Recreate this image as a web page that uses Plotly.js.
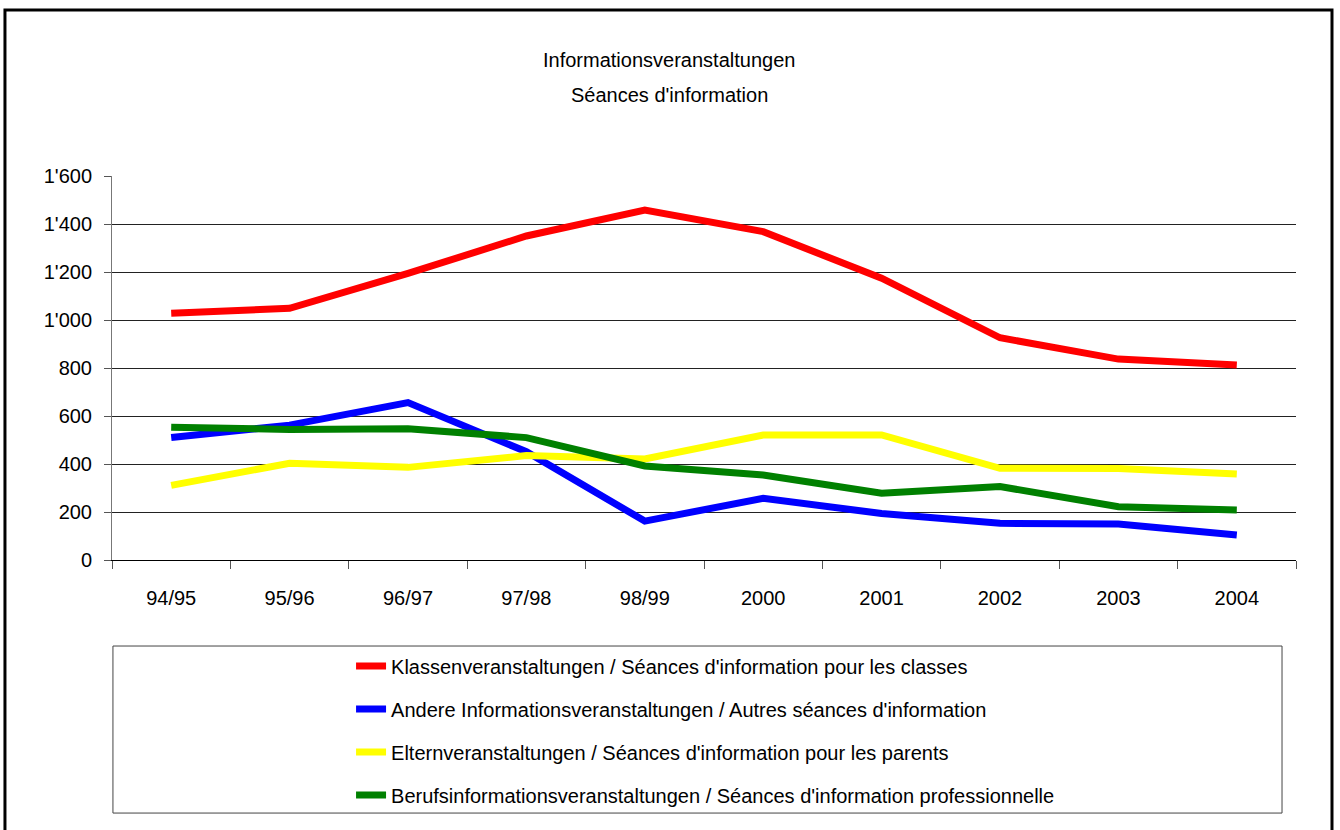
<!DOCTYPE html>
<html><head><meta charset="utf-8">
<script src="https://cdn.plot.ly/plotly-3.0.1.min.js"></script>
<style>html,body{margin:0;padding:0;background:#fff}#chart{width:1340px;height:830px}</style>
</head><body><div id="chart"></div>
<script>
const categories = ["94/95","95/96","96/97","97/98","98/99","2000","2001","2002","2003","2004"];
const klassen = [1028,1049,1194,1350,1458,1368,1174,926,837,812];
const andere = [510,562,656,451,162,257,194,153,150,104];
const eltern = [311,403,386,435,421,521,521,382,381,358];
const beruf = [553,544,547,510,392,354,278,306,222,208];
const seriesNames = [
  "Klassenveranstaltungen / Séances d'information pour les classes",
  "Andere Informationsveranstaltungen / Autres séances d'information",
  "Elternveranstaltungen / Séances d'information pour les parents",
  "Berufsinformationsveranstaltungen / Séances d'information professionnelle"
];
const colors = ["#ff0000","#0000ff","#ffff00","#008000"];
const yTicks = [0,200,400,600,800,1000,1200,1400,1600];
const yTickText = ["0","200","400","600","800","1'000","1'200","1'400","1'600"];
const titleLines = ["Informationsveranstaltungen","Séances d'information"];

const FONT = "Liberation Sans, Arial, Helvetica, sans-serif";
const data = [klassen, andere, eltern, beruf].map((vals, i) => ({
  type: "scatter", mode: "lines", x: categories, y: vals, name: seriesNames[i],
  legendgroup: "g" + i,
  line: {color: colors[i], width: 7, shape: "linear"}, cliponaxis: false
}));

const titleY = [1.302, 1.211];
const layout = {
  width: 1340, height: 830,
  margin: {l: 112, r: 44, t: 176, b: 270, pad: 0},
  paper_bgcolor: "#fff", plot_bgcolor: "#fff",
  font: {family: FONT, size: 20, color: "#000"},
  showlegend: true,
  legend: {x: 0.2019, y: -0.225, xanchor: "left", yanchor: "top", orientation: "v",
    font: {family: FONT, size: 20, color: "#000"}, bgcolor: "rgba(0,0,0,0)",
    borderwidth: 0, tracegroupgap: 14, traceorder: "grouped"},
  xaxis: {type: "category", tickson: "boundaries", ticks: "outside", ticklen: 8,
    tickcolor: "#555", showline: true, linecolor: "#000", linewidth: 1,
    showgrid: false, zeroline: false, ticklabelstandoff: 20,
    tickfont: {family: FONT, size: 20, color: "#000"}, range: [-0.5, 9.5], fixedrange: true},
  yaxis: {range: [0, 1600], tickvals: yTicks, ticktext: yTickText, ticks: "outside",
    ticklen: 7, tickcolor: "#555", showline: true, linecolor: "#777", linewidth: 1,
    showgrid: true, gridcolor: "#222", gridwidth: 1, zeroline: false,
    ticklabelstandoff: 8,
    tickfont: {family: FONT, size: 20, color: "#000"}, fixedrange: true},
  annotations: titleLines.map((t, i) => ({xref: "paper", yref: "paper", x: 0.4705, y: titleY[i],
    xanchor: "center", yanchor: "middle", text: t, showarrow: false,
    font: {family: FONT, size: 20, color: "#000"}})),
  shapes: [
    {type: "rect", xref: "paper", yref: "paper", x0: -0.0904, x1: 1.0304, y0: -0.73, y1: 1.4323,
      line: {color: "#000", width: 3}, fillcolor: "rgba(0,0,0,0)", layer: "below"},
    {type: "rect", xref: "paper", yref: "paper", x0: 0.0008, x1: 0.9882, y0: -0.659, y1: -0.224,
      line: {color: "#444", width: 1}, fillcolor: "rgba(0,0,0,0)", layer: "below"}
  ]
};
Plotly.newPlot("chart", data, layout, {displayModeBar: false, staticPlot: true});
</script></body></html>
